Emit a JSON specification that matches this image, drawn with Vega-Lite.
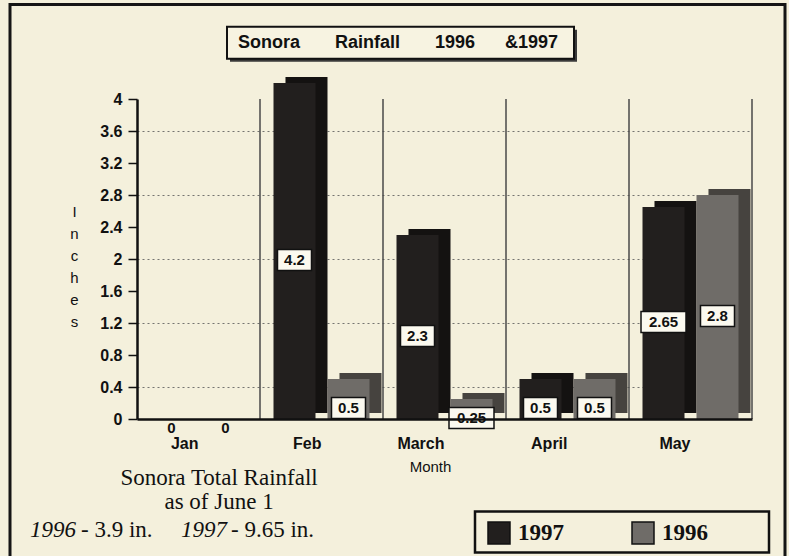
{
  "$schema": "https://vega.github.io/schema/vega-lite/v6.json",
  "width": 615,
  "height": 320,
  "autosize": {"type": "none"},
  "padding": {"left": 137, "top": 99, "right": 37, "bottom": 137},
  "background": "#f4f0dc",
  "config": {"font": "Liberation Sans", "view": {"stroke": null}},
  "data": {
    "values": [
      {"month": "Jan", "year": "1997", "inches": 0},
      {"month": "Jan", "year": "1996", "inches": 0},
      {"month": "Feb", "year": "1997", "inches": 4.2},
      {"month": "Feb", "year": "1996", "inches": 0.5},
      {"month": "March", "year": "1997", "inches": 2.3},
      {"month": "March", "year": "1996", "inches": 0.25},
      {"month": "April", "year": "1997", "inches": 0.5},
      {"month": "April", "year": "1996", "inches": 0.5},
      {"month": "May", "year": "1997", "inches": 2.65},
      {"month": "May", "year": "1996", "inches": 2.8}
    ]
  },
  "resolve": {"scale": {"y": "independent", "fill": "independent", "xOffset": "independent"}},
  "layer": [
    {
      "data": {"values": [{"k": "frame"}]},
      "mark": {"type": "rect", "width": 775, "height": 600, "xOffset": -47, "filled": false, "stroke": "#151515", "strokeWidth": 3},
      "encoding": {
        "x": {"datum": "March", "scale": {"domain": ["Jan", "Feb", "March", "April", "May"], "paddingInner": 0, "paddingOuter": 0}},
        "y": {"datum": 1.43, "scale": {"domain": [0, 4], "nice": false}, "axis": null}
      }
    },
    {
      "transform": [{"filter": "datum.year == '1997' && datum.month != 'Jan'"}],
      "mark": {"type": "rule", "color": "#4a4a4a", "strokeWidth": 1.5},
      "encoding": {
        "x": {"field": "month", "type": "nominal", "bandPosition": 0, "scale": {"domain": ["Jan", "Feb", "March", "April", "May"], "paddingInner": 0, "paddingOuter": 0}}
      }
    },
    {
      "data": {"values": [{"k": "end"}]},
      "mark": {"type": "rule", "color": "#4a4a4a", "strokeWidth": 1.5},
      "encoding": {
        "x": {"datum": "May", "bandPosition": 1, "scale": {"domain": ["Jan", "Feb", "March", "April", "May"], "paddingInner": 0, "paddingOuter": 0}}
      }
    },
    {
      "mark": {"type": "bar", "yOffset": -6},
      "encoding": {
        "x": {"field": "month", "type": "nominal", "scale": {"domain": ["Jan", "Feb", "March", "April", "May"], "paddingInner": 0, "paddingOuter": 0}},
        "xOffset": {"field": "year", "type": "nominal", "scale": {"domain": ["1997", "1996"], "paddingInner": 0.222, "paddingOuter": 0.25, "align": 0.944}},
        "y": {"field": "inches", "type": "quantitative", "scale": {"domain": [0, 4], "nice": false}, "axis": null},
        "fill": {"field": "year", "type": "nominal", "scale": {"domain": ["1997", "1996"], "range": ["#141211", "#46433f"]}, "legend": null}
      }
    },
    {
      "mark": {"type": "bar"},
      "encoding": {
        "x": {
          "field": "month", "type": "nominal",
          "scale": {"domain": ["Jan", "Feb", "March", "April", "May"], "paddingInner": 0, "paddingOuter": 0},
          "axis": {
            "title": "Month", "labelAngle": 0, "ticks": false, "grid": false,
            "domainColor": "#111", "domainWidth": 2.5,
            "labelFontWeight": "bold", "labelFontSize": 16, "labelColor": "#111", "labelPadding": 24,
            "titleFontWeight": "normal", "titleFontSize": 15, "titleColor": "#111",
            "titleX": 293, "titleY": 47, "titleBaseline": "middle", "titleAlign": "center"
          }
        },
        "xOffset": {"field": "year", "type": "nominal", "scale": {"domain": ["1997", "1996"], "paddingInner": 0.222, "paddingOuter": 0.25}},
        "y": {
          "field": "inches", "type": "quantitative",
          "scale": {"domain": [0, 4], "nice": false},
          "axis": {
            "values": [0, 0.4, 0.8, 1.2, 1.6, 2, 2.4, 2.8, 3.2, 3.6, 4],
            "labelExpr": "toString(datum.value)",
            "grid": true, "gridDash": [2, 3], "gridColor": "#555", "gridWidth": 1,
            "gridOpacity": {"condition": {"test": "round(datum.value * 10) % 8 == 4", "value": 0.8}, "value": 0},
            "domainColor": "#111", "domainWidth": 2.5,
            "tickColor": "#111", "tickWidth": 1.5, "tickSize": 9,
            "labelFontWeight": "bold", "labelFontSize": 16, "labelColor": "#111", "labelPadding": 6,
            "title": ["I", "n", "c", "h", "e", "s"], "titleAngle": 0, "titleX": -63, "titleY": 105,
            "titleBaseline": "top", "titleAlign": "center", "titleFontSize": 15, "titleFontWeight": "normal",
            "titleLineHeight": 22, "titleColor": "#111"
          }
        },
        "color": {
          "field": "year", "type": "nominal",
          "scale": {"domain": ["1997", "1996"], "range": ["#221f1e", "#6f6c68"]},
          "legend": {
            "orient": "none", "legendX": 350, "legendY": 422, "direction": "horizontal", "title": null,
            "padding": 0,
            "symbolType": "square", "symbolSize": 484, "symbolStrokeColor": "#111", "symbolStrokeWidth": 1.5,
            "labelFont": "Liberation Serif", "labelFontWeight": "bold", "labelFontSize": 23, "labelColor": "#111",
            "labelOffset": 7, "columnPadding": 65
          }
        }
      }
    },
    {
      "transform": [{"filter": "datum.inches > 0 && length(toString(datum.inches)) <= 3"}],
      "mark": {"type": "rect", "width": 34, "height": 21, "yOffset": 9, "fill": "#fbf9ef", "stroke": "#111", "strokeWidth": 1.5},
      "encoding": {
        "x": {"field": "month", "type": "nominal", "scale": {"domain": ["Jan", "Feb", "March", "April", "May"], "paddingInner": 0, "paddingOuter": 0}},
        "xOffset": {"field": "year", "type": "nominal", "scale": {"type": "band", "domain": ["1997", "1996"], "paddingInner": 0.222, "paddingOuter": 0.25}},
        "y": {"field": "inches", "type": "quantitative", "scale": {"domain": [0, 8], "nice": false}, "axis": null}
      }
    },
    {
      "transform": [{"filter": "datum.inches > 0 && length(toString(datum.inches)) > 3"}],
      "mark": {"type": "rect", "width": 45, "height": 21, "yOffset": 9, "fill": "#fbf9ef", "stroke": "#111", "strokeWidth": 1.5},
      "encoding": {
        "x": {"field": "month", "type": "nominal", "scale": {"domain": ["Jan", "Feb", "March", "April", "May"], "paddingInner": 0, "paddingOuter": 0}},
        "xOffset": {"field": "year", "type": "nominal", "scale": {"type": "band", "domain": ["1997", "1996"], "paddingInner": 0.222, "paddingOuter": 0.25}},
        "y": {"field": "inches", "type": "quantitative", "scale": {"domain": [0, 8], "nice": false}, "axis": null}
      }
    },
    {
      "mark": {"type": "text", "dy": 9, "fontSize": 15, "fontWeight": "bold", "color": "#111", "baseline": "middle", "align": "center"},
      "encoding": {
        "x": {"field": "month", "type": "nominal", "scale": {"domain": ["Jan", "Feb", "March", "April", "May"], "paddingInner": 0, "paddingOuter": 0}},
        "xOffset": {"field": "year", "type": "nominal", "scale": {"type": "band", "domain": ["1997", "1996"], "paddingInner": 0.222, "paddingOuter": 0.25}},
        "y": {"field": "inches", "type": "quantitative", "scale": {"domain": [0, 8], "nice": false}, "axis": null},
        "text": {"field": "inches", "type": "nominal"}
      }
    },
    {
      "data": {"values": [{"k": "titlebox"}]},
      "mark": {"type": "rect", "width": 347, "height": 32, "xOffset": -41, "yOffset": 3, "fill": "#3a3a3a"},
      "encoding": {
        "x": {"datum": "March", "scale": {"domain": ["Jan", "Feb", "March", "April", "May"], "paddingInner": 0, "paddingOuter": 0}},
        "y": {"datum": 4.702, "scale": {"domain": [0, 4], "nice": false}, "axis": null}
      }
    },
    {
      "data": {"values": [{"k": "titlebox"}]},
      "mark": {"type": "rect", "width": 347, "height": 32, "xOffset": -44, "fill": "#f7f3e1", "stroke": "#111", "strokeWidth": 2},
      "encoding": {
        "x": {"datum": "March", "scale": {"domain": ["Jan", "Feb", "March", "April", "May"], "paddingInner": 0, "paddingOuter": 0}},
        "y": {"datum": 4.702, "scale": {"domain": [0, 4], "nice": false}, "axis": null}
      }
    },
    {
      "data": {"values": [{"t": "Sonora\u00a0\u00a0\u00a0\u00a0\u00a0\u00a0\u00a0Rainfall\u00a0\u00a0\u00a0\u00a0\u00a0\u00a0\u00a01996\u00a0\u00a0\u00a0\u00a0\u00a0\u00a0&1997"}]},
      "mark": {"type": "text", "fontSize": 18, "fontWeight": "bold", "color": "#111", "align": "center", "baseline": "middle"},
      "encoding": {
        "x": {"datum": "March", "bandPosition": 0.122, "scale": {"domain": ["Jan", "Feb", "March", "April", "May"], "paddingInner": 0, "paddingOuter": 0}},
        "y": {"datum": 4.702, "scale": {"domain": [0, 4], "nice": false}, "axis": null},
        "text": {"field": "t"}
      }
    },
    {
      "data": {"values": [{"k": "legendbox"}]},
      "mark": {"type": "rect", "width": 294, "height": 41, "xOffset": 54.5, "filled": false, "stroke": "#111", "strokeWidth": 2.5},
      "encoding": {
        "x": {"datum": "April", "scale": {"domain": ["Jan", "Feb", "March", "April", "May"], "paddingInner": 0, "paddingOuter": 0}},
        "y": {"datum": -1.411, "scale": {"domain": [0, 4], "nice": false}, "axis": null}
      }
    },
    {
      "data": {"values": [{"t": "Sonora Total Rainfall"}]},
      "mark": {"type": "text", "font": "Liberation Serif", "fontSize": 23, "color": "#111", "align": "center", "baseline": "middle"},
      "encoding": {
        "x": {"datum": "Jan", "bandPosition": 0.667, "scale": {"domain": ["Jan", "Feb", "March", "April", "May"], "paddingInner": 0, "paddingOuter": 0}},
        "y": {"datum": -0.74, "scale": {"domain": [0, 4], "nice": false}, "axis": null},
        "text": {"field": "t"}
      }
    },
    {
      "data": {"values": [{"t": "as of June 1"}]},
      "mark": {"type": "text", "font": "Liberation Serif", "fontSize": 23, "color": "#111", "align": "center", "baseline": "middle"},
      "encoding": {
        "x": {"datum": "Jan", "bandPosition": 0.667, "scale": {"domain": ["Jan", "Feb", "March", "April", "May"], "paddingInner": 0, "paddingOuter": 0}},
        "y": {"datum": -1.041, "scale": {"domain": [0, 4], "nice": false}, "axis": null},
        "text": {"field": "t"}
      }
    },
    {
      "data": {"values": [{"t": "1996"}]},
      "mark": {"type": "text", "font": "Liberation Serif", "fontSize": 23, "fontStyle": "italic", "color": "#111", "align": "left", "baseline": "middle"},
      "encoding": {
        "x": {"datum": "Jan", "bandPosition": -0.87, "scale": {"domain": ["Jan", "Feb", "March", "April", "May"], "paddingInner": 0, "paddingOuter": 0}},
        "y": {"datum": -1.392, "scale": {"domain": [0, 4], "nice": false}, "axis": null},
        "text": {"field": "t"}
      }
    },
    {
      "data": {"values": [{"t": "- 3.9 in."}]},
      "mark": {"type": "text", "font": "Liberation Serif", "fontSize": 23, "color": "#111", "align": "left", "baseline": "middle"},
      "encoding": {
        "x": {"datum": "Jan", "bandPosition": -0.455, "scale": {"domain": ["Jan", "Feb", "March", "April", "May"], "paddingInner": 0, "paddingOuter": 0}},
        "y": {"datum": -1.392, "scale": {"domain": [0, 4], "nice": false}, "axis": null},
        "text": {"field": "t"}
      }
    },
    {
      "data": {"values": [{"t": "1997"}]},
      "mark": {"type": "text", "font": "Liberation Serif", "fontSize": 23, "fontStyle": "italic", "color": "#111", "align": "left", "baseline": "middle"},
      "encoding": {
        "x": {"datum": "Jan", "bandPosition": 0.358, "scale": {"domain": ["Jan", "Feb", "March", "April", "May"], "paddingInner": 0, "paddingOuter": 0}},
        "y": {"datum": -1.392, "scale": {"domain": [0, 4], "nice": false}, "axis": null},
        "text": {"field": "t"}
      }
    },
    {
      "data": {"values": [{"t": "- 9.65 in."}]},
      "mark": {"type": "text", "font": "Liberation Serif", "fontSize": 23, "color": "#111", "align": "left", "baseline": "middle"},
      "encoding": {
        "x": {"datum": "Jan", "bandPosition": 0.764, "scale": {"domain": ["Jan", "Feb", "March", "April", "May"], "paddingInner": 0, "paddingOuter": 0}},
        "y": {"datum": -1.392, "scale": {"domain": [0, 4], "nice": false}, "axis": null},
        "text": {"field": "t"}
      }
    }
  ]
}
